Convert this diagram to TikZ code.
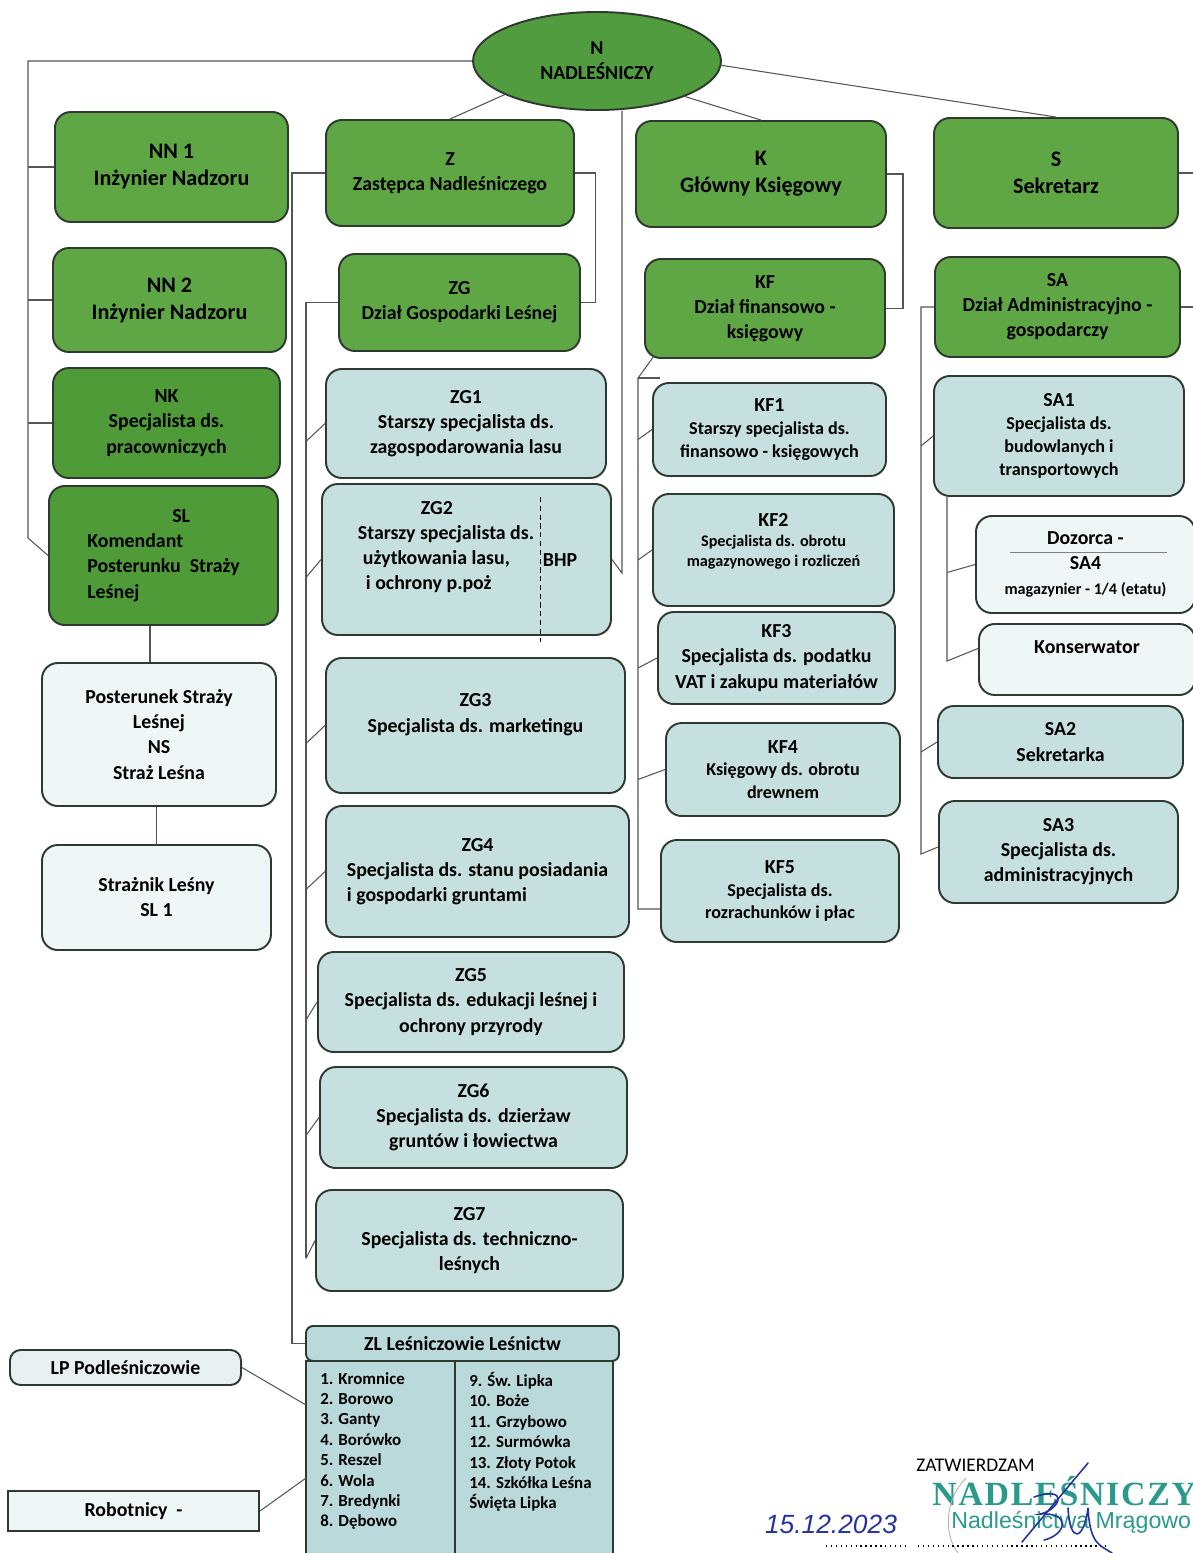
\documentclass[tikz,border=0pt]{standalone}
\usepackage{fontspec}
\setmainfont{Carlito}
\newfontfamily\stampserif[LetterSpace=5]{Liberation Serif}
\newfontfamily\stampsans{Liberation Sans}
\usetikzlibrary{calc,shapes.geometric}

\definecolor{gfill}{HTML}{5FA745}
\definecolor{gdark}{HTML}{4E9B37}
\definecolor{nfill}{HTML}{509C3F}
\definecolor{tfill}{HTML}{C6E0E0}
\definecolor{wfill}{HTML}{EEF6F6}
\definecolor{zlfill}{HTML}{BAD9DB}
\definecolor{lpfill}{HTML}{E8F0F1}
\definecolor{boxline}{HTML}{2E3A30}
\definecolor{conline}{HTML}{555555}
\definecolor{stamp}{HTML}{2A9A8C}
\definecolor{inkblue}{HTML}{2433A0}

\newcommand\boxfontl{\fontsize{12.6}{15.4}\selectfont\bfseries}
\newcommand\boxfont{\fontsize{11.3}{14.3}\selectfont\bfseries}
\newcommand\boxfonts{\fontsize{10.3}{13}\selectfont\bfseries}
\newcommand\boxfontt{\fontsize{9.2}{11.5}\selectfont\bfseries}
\newcommand\listfont{\fontsize{9.6}{11.6}\selectfont\bfseries}

\tikzset{
  con/.style={draw=conline, line width=0.6pt},
  sz/.style 2 args={minimum width=#1*0.02cm, minimum height=#2*0.02cm},
  box/.style={draw=boxline, line width=1.1pt, rounded corners=9pt, align=center, inner sep=1pt, font=\boxfont},
  gbox/.style={box, fill=gfill},
  dbox/.style={box, fill=gdark},
  tbox/.style={box, fill=tfill},
  wbox/.style={box, fill=wfill},
}

\begin{document}
\begin{tikzpicture}[x=0.02cm,y=-0.02cm]
    \useasboundingbox (0,0) rectangle (1193,1553);

    % top
    \node[ellipse, draw=boxline, line width=1.1pt, fill=nfill, sz={248}{98}, align=center, font=\boxfont] (N) at (597,61) {N\\NADLEŚNICZY};

    % left column
    \node[gbox, sz={233}{110}, font=\boxfontl] (NN1) at (171.5,167) {NN 1\\Inżynier Nadzoru};
    \node[gbox, sz={233}{104}, font=\boxfontl] (NN2) at (169.5,300) {NN 2\\Inżynier Nadzoru};
    \node[dbox, sz={227}{110}] (NK) at (166.5,423) {NK\\Specjalista ds.\\pracowniczych};
    \node[dbox, sz={229}{139}, align=left] (SL) at (163.5,555.5) {\hspace*{1.7cm}SL\\Komendant\\Posterunku~~Straży\\Leśnej};
    \node[wbox, sz={234}{143}] (Post) at (159,734.5) {Posterunek Straży\\Leśnej\\NS\\Straż Leśna};
    \node[wbox, sz={229}{105}] (Strz) at (156.5,897.5) {Strażnik Leśny\\SL 1};

    % Z column
    \node[gbox, sz={248}{106}] (Z) at (450,173) {Z\\Zastępca Nadleśniczego};
    \node[gbox, sz={241}{97}] (ZG) at (459.5,302.5) {ZG\\Dział Gospodarki Leśnej};
    \node[tbox, sz={280}{109}] (ZG1) at (466,423.5) {ZG1\\Starszy specjalista ds.\\zagospodarowania lasu};
    \node[tbox, sz={289}{151}] (ZG2) at (466.5,559.5) {};
    \node[font=\boxfont, align=left] (ZG2t) at (446,547) {\hspace*{1.26cm}ZG2\\Starszy specjalista ds.\\\hspace*{0.1cm}użytkowania lasu,\\\hspace*{0.16cm}i ochrony p.poż};
    \node[font=\boxfont] (BHP) at (560,560) {BHP};
    \draw[densely dashed, line width=0.5pt] (540,497) -- (540,642);
    \node[tbox, sz={299}{135}] (ZG3) at (475.5,725.5) {ZG3\\Specjalista ds. marketingu\\\mbox{}};
    \node[tbox, sz={303}{131}] (ZG4) at (477.5,871.5) {\begin{tabular}{@{}l@{}}\multicolumn{1}{@{}c@{}}{ZG4}\\Specjalista ds. stanu posiadania\\i gospodarki gruntami\end{tabular}};
    \node[tbox, sz={306}{100}] (ZG5) at (471,1002) {ZG5\\Specjalista ds. edukacji leśnej i\\ochrony przyrody};
    \node[tbox, sz={307}{101}] (ZG6) at (473.5,1117.5) {ZG6\\Specjalista ds. dzierżaw\\gruntów i łowiectwa};
    \node[tbox, sz={307}{101}] (ZG7) at (469.5,1240.5) {ZG7\\Specjalista ds. techniczno-\\leśnych};

    % ZL table
    \node[draw=boxline, line width=1.1pt, fill=zlfill, sz={307}{204}] (ZLt) at (459.5,1463) {};
    \node[box, fill=zlfill, rounded corners=4pt, sz={313}{35}] (ZLh) at (462.5,1343.5) {ZL Leśniczowie Leśnictw};
    \draw[boxline, line width=1.1pt] ($(ZLt.north west)+(150,0)$) -- ($(ZLt.south west)+(150,0)$);
    \node[anchor=north west, align=left, font=\listfont, inner sep=0pt] (ZLa) at (320,1372) {1. Kromnice\\2. Borowo\\3. Ganty\\4. Borówko\\5. Reszel\\6. Wola\\7. Bredynki\\8. Dębowo};
    \node[anchor=north west, align=left, font=\listfont, inner sep=0pt] (ZLb) at (469,1372) {9. Św. Lipka\\10. Boże\\11. Grzybowo\\12. Surmówka\\13. Złoty Potok\\14. Szkółka Leśna\\Święta Lipka};

    \node[box, fill=lpfill, rounded corners=6pt, sz={231}{35}] (LP) at (125.5,1367.5) {LP Podleśniczowie};
    \node[box, fill=wfill, sharp corners, sz={251}{40}] (Rob) at (133.5,1511) {Robotnicy\hspace{5pt}-};

    % K column
    \node[gbox, sz={250}{106}, font=\boxfontl] (K) at (761,174) {K\\Główny Księgowy};
    \node[gbox, sz={240}{99}] (KF) at (765,308.5) {KF\\Dział finansowo -\\księgowy};
    \node[tbox, sz={233}{93}, font=\boxfonts] (KF1) at (769.5,429.5) {{\boxfont KF1}\\Starszy specjalista ds.\\finansowo - księgowych};
    \node[tbox, sz={241}{112}, font=\boxfontt] (KF2) at (773.5,550) {{\boxfont KF2}\\Specjalista ds. obrotu\\magazynowego i rozliczeń\\\mbox{}};
    \node[tbox, sz={237}{92}] (KF3) at (776.5,658) {KF3\\Specjalista ds. podatku\\VAT i zakupu materiałów};
    \node[tbox, sz={234}{93}, font=\boxfonts] (KF4) at (783,769.5) {{\boxfont KF4}\\Księgowy ds. obrotu\\drewnem};
    \node[tbox, sz={238}{102}, font=\boxfonts] (KF5) at (780,891) {{\boxfont KF5}\\Specjalista ds.\\rozrachunków i płac};

    % S column
    \node[gbox, sz={244}{110}, font=\boxfontl] (S) at (1056,173) {S\\Sekretarz};
    \node[gbox, sz={245}{100}] (SA) at (1057.5,307) {SA\\Dział Administracyjno -\\gospodarczy};
    \node[tbox, sz={250}{120}, font=\boxfonts] (SA1) at (1059,436) {{\boxfont SA1}\\Specjalista ds.\\budowlanych i\\transportowych};
    \node[wbox, sz={219}{97}] (Dz) at (1085.5,564.5) {Dozorca -\\SA4\\{\boxfontt magazynier - 1/4 (etatu)}};
    \draw[gray, line width=0.8pt] ($(Dz.center)+(-76,-12)$) -- ($(Dz.center)+(81,-12)$);
    \node[wbox, sz={216}{71}] (Kons) at (1087,659.5) {Konserwator\\\mbox{}};
    \node[tbox, sz={245}{72}] (SA2) at (1060.5,742) {SA2\\Sekretarka};
    \node[tbox, sz={239}{102}] (SA3) at (1058.5,852) {SA3\\Specjalista ds.\\administracyjnych};

    % connectors
    \coordinate (tL) at (28,538);
    \draw[con] (N.west) -| (tL) -- (SL.west);
    \foreach \b in {NN1,NN2,NK} \draw[con] (\b.west) -- (\b.west -| tL);
    \draw[con] (N.200) -- (Z.north);
    \draw[con] (N.338) -- (K.north);
    \draw[con] (N.358) -- (S.north);
    \coordinate (tB) at (622,573);
    \draw[con] (tB |- N.south) -- (tB) -- (ZG2.east);

    \draw[con] (Z.east) -- ++(21,0) |- (ZG.east);
    \coordinate (tZ) at (292,1343.5);
    \draw[con] (Z.west) -| (tZ) -- (ZLh.west);
    \coordinate (tG) at (306,1258);
    \draw[con] (ZG.west) -| (tG);
    \foreach \i in {1,...,7} \draw[con] (ZG\i.west) -- ($(ZG\i.west -| tG)+(0,18)$);

    \draw[con] (K.east) -- ++(16,0) |- (KF.east);
    \coordinate (tK) at (638,378);
    \coordinate (tKe) at (660,378);
    \draw[con] ($(KF.south west)+(10,-3)$) -- (tK) -- ($(tK |- KF5.west)+(0,18)$) -- ($(KF5.west)+(0,18)$);
    \draw[con] (tK) -- (tKe);
    \foreach \i in {1,...,4} \draw[con] (KF\i.west) -- ($(KF\i.west -| tK)+(0,10)$);

    \coordinate (tS) at (921,854);
    \draw[con] (SA.west) -| (tS) -- ($(SA3.west)+(0,-5)$);
    \foreach \b in {SA1,SA2} \draw[con] (\b.west) -- ($(\b.west -| tS)+(0,10)$);
    \coordinate (tA) at (947,661);
    \draw[con] (SA1.south -| tA) -- (tA) -- ($(Kons.west)+(0,-11)$);
    \draw[con] (Dz.west) -- ($(Dz.west -| tA)+(0,8)$);
    \coordinate (eR) at (1193,0);
    \draw[con] (S.east) -- (S.east -| eR);
    \draw[con] (SA.east) -- (SA.east -| eR);

    \draw[con] ($(Post.north)+(-9,0)$) coordinate (pp) -- (pp |- SL.south);
    \draw[con] (Post.south -| Strz.north) -- (Strz.north);
    \coordinate (zA) at (306,1405);
    \coordinate (zB) at (306,1478);
    \draw[con] (LP.east) -- (zA);
    \draw[con] (Rob.east) -- (zB);

    % approval stamp
    \node[font=\fontsize{11}{13}\selectfont, anchor=base west, inner sep=0pt] (zatw) at (916,1471) {ZATWIERDZAM};
    \node[font=\stampserif\bfseries\fontsize{19.3}{21}\selectfont, text=stamp, anchor=base west, inner sep=0pt] (stN) at (932,1505) {NADLEŚNICZY};
    \node[font=\stampsans\fontsize{13.2}{15}\selectfont, text=stamp, anchor=base west, inner sep=0pt] (stM) at (951,1528) {Nadleśnictwa Mrągowo};
    \draw[gray!60, line width=0.5pt] (966,1478) .. controls (944,1500) and (944,1535) .. (958,1553);
    \node[font=\stampsans\itshape\fontsize{15}{17}\selectfont, text=inkblue, inner sep=0pt] (date) at (831,1524) {15.12.2023};
    \draw[dotted, line width=0.8pt] (826,1546) -- (906,1546);
    \draw[dotted, line width=0.8pt] (918,1546) -- (1105,1546);
    \draw[inkblue, line width=0.9pt, line cap=round] (1022,1542) -- (1088,1463);
    \draw[inkblue, line width=0.9pt, line cap=round] (1034,1497) .. controls (1070,1485) and (1060,1510) .. (1040,1514) .. controls (1072,1512) and (1066,1535) .. (1044,1540);
    \draw[inkblue, line width=0.9pt, line cap=round] (1068,1508) .. controls (1070,1545) and (1084,1540) .. (1088,1508) .. controls (1090,1545) and (1100,1545) .. (1112,1553);
\end{tikzpicture}
\end{document}
